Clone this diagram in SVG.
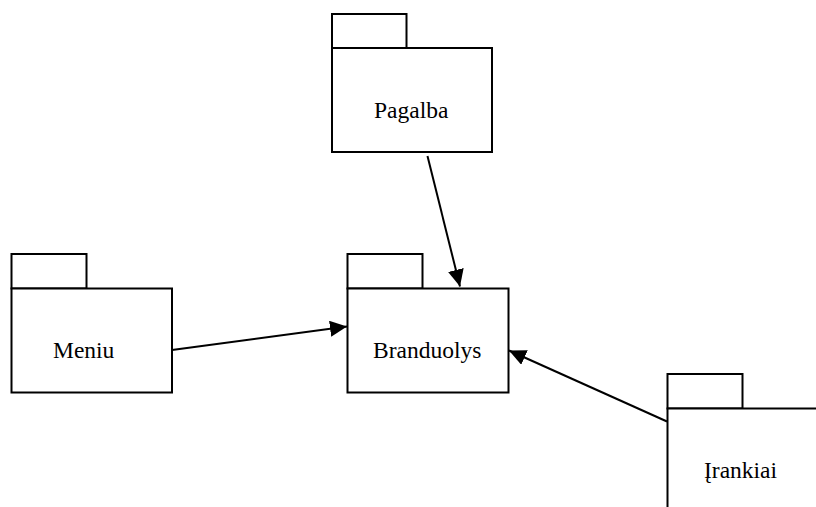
<svg xmlns="http://www.w3.org/2000/svg" width="816" height="507" viewBox="0 0 816 507">
  <style>
    .pkg { fill: #fff; stroke: #000; stroke-width: 2; }
    .lbl { font-family: "Liberation Serif", "Times New Roman", serif; font-size: 23.5px; fill: #000; }
    .edge { fill: none; stroke: #000; stroke-width: 2; }
  </style>
  <defs>
    <marker id="arrow" markerUnits="userSpaceOnUse" markerWidth="18" markerHeight="16" refX="17" refY="8" orient="auto">
      <path d="M0,0 L17,8 L0,16 Z" fill="#000"/>
    </marker>
  </defs>
  <rect width="816" height="507" fill="#fff"/>

  <g id="pagalba">
    <rect class="pkg" x="332" y="14" width="74.5" height="34"/>
    <rect class="pkg" x="332" y="48" width="160" height="104"/>
    <text class="lbl" x="374" y="118">Pagalba</text>
  </g>

  <g id="meniu">
    <rect class="pkg" x="11.5" y="254" width="75" height="34.5"/>
    <rect class="pkg" x="11.5" y="288.5" width="160.5" height="104"/>
    <text class="lbl" x="53" y="358">Meniu</text>
  </g>

  <g id="branduolys">
    <rect class="pkg" x="347.5" y="254" width="75" height="34.5"/>
    <rect class="pkg" x="347.5" y="288.5" width="161" height="104"/>
    <text class="lbl" x="373" y="358">Branduolys</text>
  </g>

  <g id="irankiai">
    <rect class="pkg" x="667.5" y="374" width="75" height="34.5"/>
    <path class="pkg" d="M667.5,508 L667.5,408.5 L817,408.5"/>
    <text class="lbl" x="704" y="478">Įrankiai</text>
  </g>

  <g id="connectors">
    <path class="edge" d="M427.5,156 L460,286.5" marker-end="url(#arrow)"/>
    <path class="edge" d="M172,350 L347,326.5" marker-end="url(#arrow)"/>
    <path class="edge" d="M667,421.5 L509,350.5" marker-end="url(#arrow)"/>
  </g>
</svg>
